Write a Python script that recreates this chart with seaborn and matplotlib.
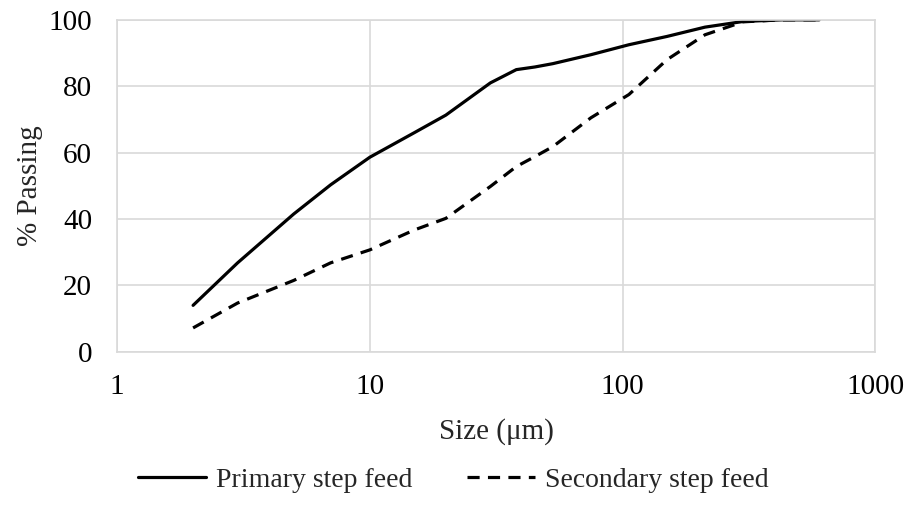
import pandas as pd
import matplotlib.pyplot as plt
import matplotlib.ticker as mticker
import seaborn as sns

# -----------------------------
# Data
# -----------------------------
size_um = [2, 3, 5, 7, 10, 15, 20, 30, 38, 45, 53, 75, 106, 150, 212, 300, 425, 600]
primary = [14.0, 26.8, 41.5, 50.3, 58.6, 66.0, 71.3, 81.0, 85.0, 85.8, 86.8, 89.5, 92.5, 95.0, 97.8, 99.5, 100, 100]
secondary = [7.2, 14.7, 21.5, 26.8, 30.7, 36.7, 40.2, 49.8, 55.8, 58.8, 61.8, 70.5, 77.5, 88.0, 95.5, 99.4, 100, 100]

labels = ["Primary step feed", "Secondary step feed"]

df = pd.DataFrame({
    "size": size_um * 2,
    "passing": primary + secondary,
    "feed": [labels[0]] * len(size_um) + [labels[1]] * len(size_um),
})

sns.set_style("white")
plt.rcParams["font.family"] = ["Liberation Serif", "DejaVu Serif"]

fig = plt.figure(figsize=(9.07, 5.22), dpi=100)
ax = fig.add_axes([0.129, 0.326, 0.836, 0.636])

sns.lineplot(
    data=df, x="size", y="passing", hue="feed", style="feed",
    palette=["black", "black"],
    dashes={labels[0]: "", labels[1]: (3.8, 2.6)},
    linewidth=2.3, ax=ax, legend=True,
)

ax.set_xscale("log")
ax.set_xlim(1, 1000)
ax.set_ylim(0, 100)
ax.xaxis.set_major_locator(mticker.FixedLocator([1, 10, 100, 1000]))
ax.xaxis.set_major_formatter(mticker.FixedFormatter(["1", "10", "100", "1000"]))
ax.xaxis.set_minor_locator(mticker.NullLocator())
ax.set_yticks([0, 20, 40, 60, 80, 100])

ax.grid(True, color="#d9d9d9", linewidth=1.2)
for sp in ax.spines.values():
    sp.set_color("#d9d9d9")
    sp.set_linewidth(1.2)
ax.tick_params(axis="y", length=0, labelsize=21, pad=18, colors="black")
ax.tick_params(axis="x", length=0, labelsize=21, pad=16, colors="black")

ax.set_xlabel("Size (μm)", fontsize=21, labelpad=13)
ax.set_ylabel("% Passing", fontsize=21, labelpad=4)

handles, _ = ax.get_legend_handles_labels()
ax.get_legend().remove()
fig.legend(handles, labels, loc="center", bbox_to_anchor=(0.5, 0.08), ncol=2,
           frameon=False, fontsize=20, handlelength=2.45, handletextpad=0.36,
           columnspacing=1.95)

plt.savefig("out.png", dpi=100)
